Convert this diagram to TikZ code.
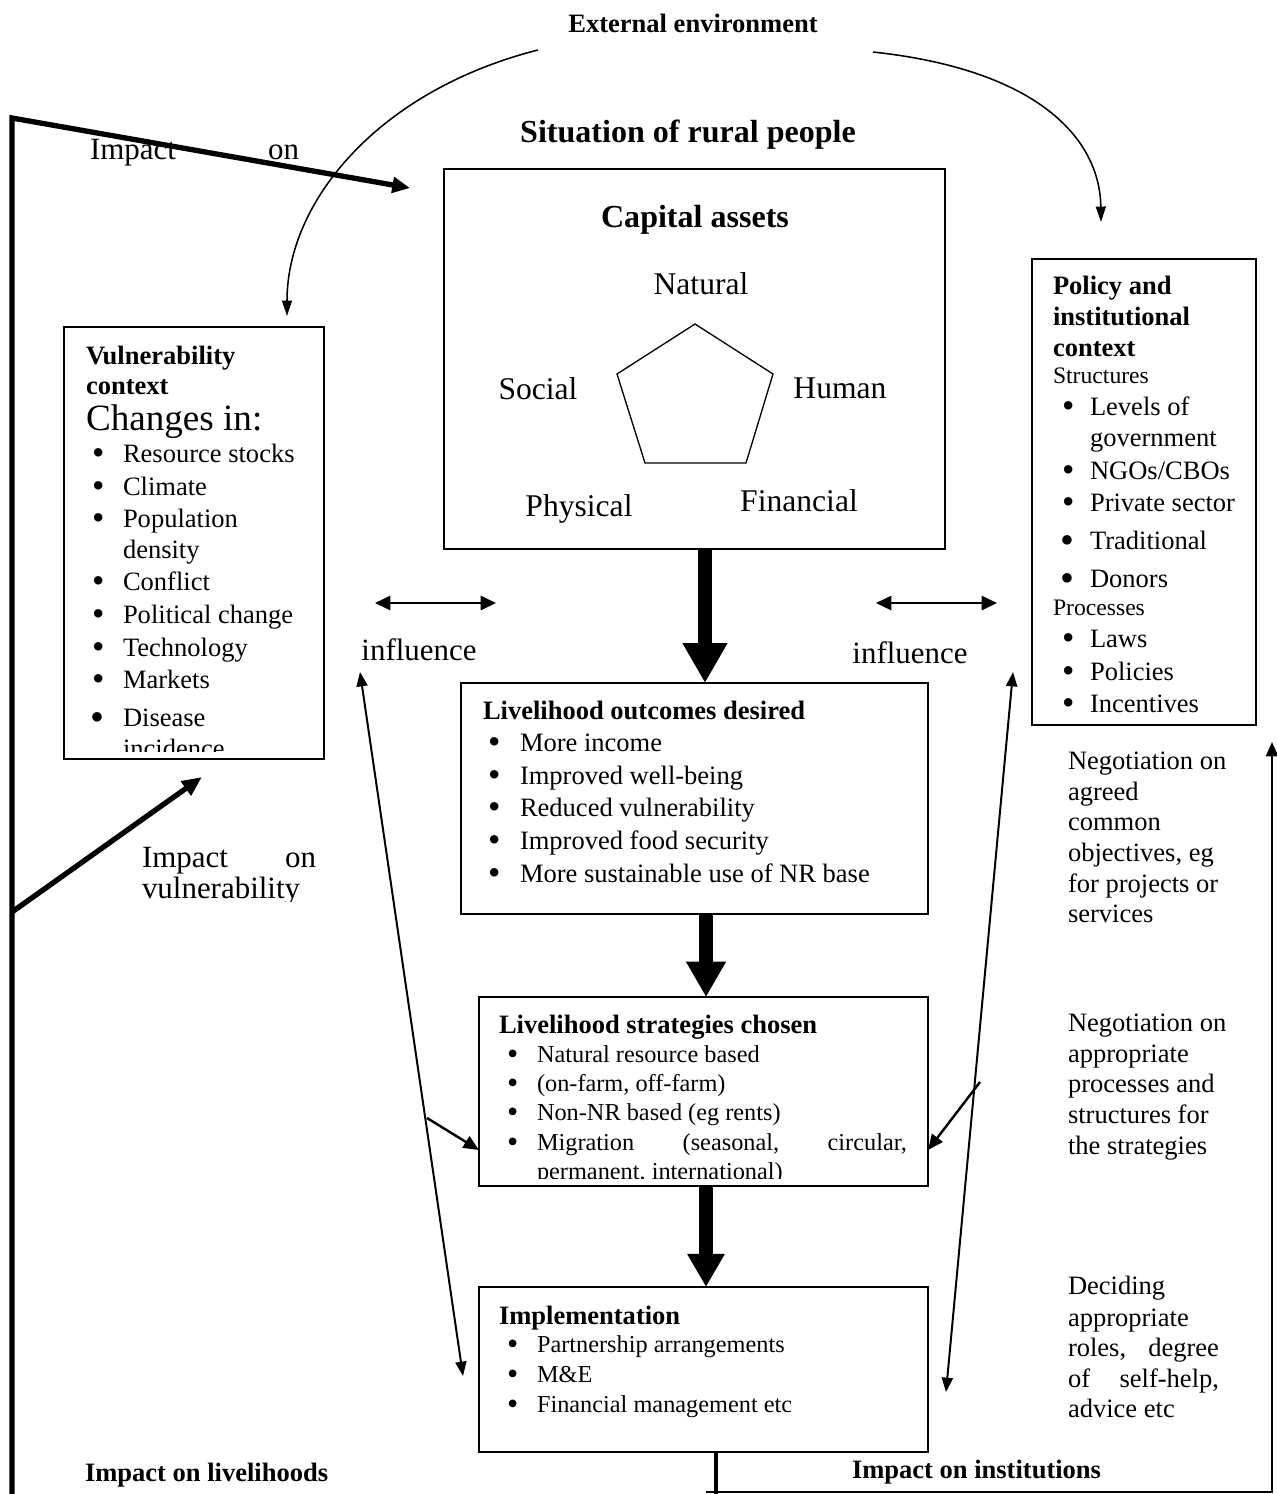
\documentclass[tikz,border=0pt]{standalone}
\usepackage{fontspec}
\setmainfont{Liberation Serif}
\usetikzlibrary{arrows.meta}
\newdimen\px \px=0.4525pt
\newcommand\itm[2]{\makebox[#1\px][l]{\smash{\raisebox{-1.3pt}{\fontsize{16}{16}\selectfont\textbullet}}}#2}
\newcommand\itms[2]{\makebox[#1\px][l]{\smash{\raisebox{-1.0pt}{\fontsize{14.5}{14.5}\selectfont\textbullet}}}#2}
\newcommand\itmb[2]{\makebox[#1\px][l]{\smash{\raisebox{-1.9pt}{\fontsize{18}{18}\selectfont\textbullet}}}#2}
\tikzset{
  box/.style={draw, line width=0.9pt, anchor=north west, inner sep=0pt, outer sep=0pt},
  tx/.style={anchor=base west, inner sep=0pt, outer sep=0pt, font=\fontsize{12}{14}\selectfont},
  txb/.style={tx, font=\fontsize{12}{14}\selectfont\bfseries},
  txs/.style={tx, font=\fontsize{11}{13}\selectfont},
  txxs/.style={tx, font=\fontsize{10.7}{12}\selectfont},
  txm/.style={tx, font=\fontsize{14}{16}\selectfont},
  txl/.style={tx, font=\fontsize{16.8}{19}\selectfont},
  ctr/.style={anchor=base, inner sep=0pt, outer sep=0pt},
  bigarr/.style={line width=6.6pt, -{Triangle[length=18pt,width=19pt]}},
  thickarr/.style={line width=2.4pt, line join=miter, -{Triangle[length=8pt,width=7pt]}},
  thinarr/.style={line width=0.9pt, -{Triangle[length=6.5pt,width=5.5pt]}},
  dblarr/.style={line width=0.9pt, {Triangle[length=7pt,width=6.5pt]}-{Triangle[length=7pt,width=6.5pt]}},
  longarr/.style={line width=0.9pt, {Triangle[length=6.5pt,width=5pt]}-{Triangle[length=6.5pt,width=5pt]}},
  curvarr/.style={line width=0.7pt, -{Triangle[length=7pt,width=4.5pt]}},
}
\begin{document}
\begin{tikzpicture}[x=0.4525pt, y=-0.4525pt]
\fill[white] (0,0) rectangle (1277,1494);
\useasboundingbox (0,0) rectangle (1277,1494);

% ---------- headings ----------
\node[ctr, font=\fontsize{12}{14}\selectfont\bfseries] (ext) at (693,32) {External environment};
\node[ctr, font=\fontsize{14.5}{17}\selectfont\bfseries] (sit) at (688,142) {Situation of rural people};

% ---------- capital assets ----------
\node[box, minimum width=501\px, minimum height=380\px] (cap) at (444,169) {};
\node[ctr, font=\fontsize{14.5}{17}\selectfont\bfseries] (capt) at (695,227) {Capital assets};
\node[ctr, font=\fontsize{14.3}{16}\selectfont] (nat) at (701,294) {Natural};
\node[ctr, font=\fontsize{14.3}{16}\selectfont] (soc) at (538,399) {Social};
\node[ctr, font=\fontsize{14.3}{16}\selectfont] (hum) at (840,398) {Human};
\node[ctr, font=\fontsize{14.3}{16}\selectfont] (phy) at (579,516) {Physical};
\node[ctr, font=\fontsize{14.3}{16}\selectfont] (fin) at (799,511) {Financial};
\draw[line width=0.6pt] (695,324) -- (773,374) -- (746,463) -- (645,463) -- (617,374) -- cycle;

% ---------- vulnerability context ----------
\node[box, minimum width=260\px, minimum height=432\px] (vul) at (64,327) {};
\node[txb] (v1) at (86,364) {Vulnerability};
\node[txb] (v2) at (86,394) {context};
\node[txl] (v3) at (86,430) {Changes in:};
\begin{scope}
\clip (64,327) rectangle (324,751);
\node[tx] (v4) at (92,462) {\itm{31}{Resource stocks}};
\node[tx] (v5) at (92,495) {\itm{31}{Climate}};
\node[tx] (v6) at (92,527) {\itm{31}{Population}};
\node[tx] (v7) at (123,558) {density};
\node[tx] (v8) at (92,590) {\itm{31}{Conflict}};
\node[tx] (v9) at (92,623) {\itm{31}{Political change}};
\node[tx] (v10) at (92,656) {\itm{31}{Technology}};
\node[tx] (v11) at (92,688) {\itm{31}{Markets}};
\node[tx] (v12) at (90,726) {\itmb{33}{Disease}};
\node[tx] (v13) at (123,757) {incidence};
\end{scope}

% ---------- policy and institutional context ----------
\node[box, minimum width=224\px, minimum height=466\px] (pol) at (1032,259) {};
\node[txb] (p1) at (1053,294) {Policy and};
\node[txb] (p2) at (1053,325) {institutional};
\node[txb] (p3) at (1053,356) {context};
\node[txxs] (p4) at (1053,383) {Structures};
\node[tx] (p5) at (1062,415) {\itm{28}{Levels of}};
\node[tx] (p6) at (1090,446) {government};
\node[tx] (p7) at (1062,479) {\itm{28}{NGOs/CBOs}};
\node[tx] (p8) at (1062,511) {\itm{28}{Private sector}};
\node[tx] (p9) at (1060,549) {\itmb{30}{Traditional}};
\node[tx] (p10) at (1060,587) {\itmb{30}{Donors}};
\node[txxs] (p11) at (1053,615) {Processes};
\node[tx] (p12) at (1062,647) {\itm{28}{Laws}};
\node[tx] (p13) at (1062,680) {\itm{28}{Policies}};
\node[tx] (p14) at (1062,712) {\itm{28}{Incentives}};

% ---------- livelihood outcomes ----------
\node[box, minimum width=467\px, minimum height=231\px] (out) at (461,683) {};
\node[txb] (o1) at (483,719) {Livelihood outcomes desired};
\node[tx] (o2) at (488,751) {\itm{32}{More income}};
\node[tx] (o3) at (488,784) {\itm{32}{Improved well-being}};
\node[tx] (o4) at (488,816) {\itm{32}{Reduced vulnerability}};
\node[tx] (o5) at (488,849) {\itm{32}{Improved food security}};
\node[tx] (o6) at (488,882) {\itm{32}{More sustainable use of NR base}};

% ---------- livelihood strategies ----------
\node[box, minimum width=449\px, minimum height=189\px] (str) at (479,997) {};
\node[txb] (s1) at (499,1033) {Livelihood strategies chosen};
\begin{scope}
\clip (479,997) rectangle (928,1178);
\node[txs] (s2) at (507,1062) {\itms{30}{Natural resource based}};
\node[txs] (s3) at (507,1091) {\itms{30}{(on-farm, off-farm)}};
\node[txs] (s4) at (507,1120) {\itms{30}{Non-NR based (eg rents)}};
\node[txs] (s5) at (507,1150) {\itms{30}{\hbox to 370\px{Migration\hfil(seasonal,\hfil circular,}}};
\node[txs] (s6) at (537,1179) {permanent, international)};
\end{scope}

% ---------- implementation ----------
\node[box, minimum width=449\px, minimum height=165\px] (imp) at (479,1287) {};
\node[txb] (i1) at (499,1324) {Implementation};
\node[txs] (i2) at (507,1352) {\itms{30}{Partnership arrangements}};
\node[txs] (i3) at (507,1382) {\itms{30}{M\&E}};
\node[txs] (i4) at (507,1412) {\itms{30}{Financial management etc}};

% ---------- influence ----------
\node[ctr, font=\fontsize{14}{16}\selectfont] (inf1) at (419,660) {influence};
\node[ctr, font=\fontsize{14}{16}\selectfont] (inf2) at (910,663) {influence};

% ---------- left labels ----------
\node[txm] (imp1) at (90,159) {\hbox to 209\px{Impact\hfil on}};
\node[txm] (imp2) at (142,867) {\hbox to 174\px{Impact\hfil on}};
\begin{scope}
\clip (130,870) rectangle (340,901);
\node[txm] (imp3) at (142,898) {vulnerability};
\end{scope}
\node[txb] (bl) at (85,1481) {Impact on livelihoods};
\node[txb] (br) at (852,1478) {Impact on institutions};

% ---------- right labels ----------
\node[tx] (r1) at (1068,769) {Negotiation on};
\node[tx] (r2) at (1068,800) {agreed};
\node[tx] (r3) at (1068,830) {common};
\node[tx] (r4) at (1068,861) {objectives, eg};
\node[tx] (r5) at (1068,892) {for projects or};
\node[tx] (r6) at (1068,922) {services};
\node[tx] (r7) at (1068,1031) {Negotiation on};
\node[tx] (r8) at (1068,1062) {appropriate};
\node[tx] (r9) at (1068,1092) {processes and};
\node[tx] (r10) at (1068,1123) {structures for};
\node[tx] (r11) at (1068,1154) {the strategies};
\node[tx] (r12) at (1068,1294) {Deciding};
\node[tx] (r13) at (1068,1326) {appropriate};
\node[tx] (r14) at (1068,1356) {\hbox to 151\px{roles,\hfil degree}};
\node[tx] (r15) at (1068,1387) {\hbox to 151\px{of\hfil self-help,}};
\node[tx] (r16) at (1068,1417) {advice etc};

% ---------- coordinates ----------
\coordinate (ax1) at (705,0);
\coordinate (ax2) at (706,0);
\coordinate (L0) at (12,1494);
\coordinate (L1) at (12,118);
\coordinate (A1) at (410,188);
\coordinate (V0) at (12,912);
\coordinate (V1) at (202,777);
\coordinate (E1) at (538,50);
\coordinate (E1t) at (287,316);
\coordinate (E2) at (873,52);
\coordinate (E2t) at (1101,222);
\coordinate (I1a) at (375,603);
\coordinate (I1b) at (496,603);
\coordinate (I2a) at (876,603);
\coordinate (I2b) at (997,603);
\coordinate (T1a) at (360,672);
\coordinate (T1b) at (463,1376);
\coordinate (T2a) at (1013,672);
\coordinate (T2b) at (946,1392);
\coordinate (S1a) at (427,1118);
\coordinate (S1b) at (479,1150);
\coordinate (S2a) at (980,1082);
\coordinate (S2b) at (928,1150);
\coordinate (B1) at (716,1494);
\coordinate (B2) at (706,1492);
\coordinate (B3) at (1272,1492);
\coordinate (B4) at (1272,742);

% ---------- connectors ----------
\draw[bigarr] (cap.south -| ax1) -- (out.north -| ax1);
\draw[line width=6.6pt, -{Triangle[length=16pt,width=17pt]}] (out.south -| ax2) -- (str.north -| ax2);
\draw[line width=6.6pt, -{Triangle[length=15pt,width=16pt]}] (str.south -| ax2) -- (imp.north -| ax2);

\draw[thickarr] (L0) -- (L1) -- (A1);
\draw[thickarr, -{Triangle[length=9pt,width=7.5pt]}] (V0) -- (V1);

\draw[curvarr] (E1) .. controls (380,90) and (287,200) .. (E1t);
\draw[curvarr] (E2) .. controls (1040,70) and (1100,140) .. (E2t);

\draw[dblarr] (I1a) -- (I1b);
\draw[dblarr] (I2a) -- (I2b);

\draw[longarr] (T1a) -- (T1b);
\draw[longarr] (T2a) -- (T2b);

\draw[line width=1.1pt, -{Triangle[length=7pt,width=6pt]}] (S1a) -- (S1b);
\draw[line width=1.1pt, -{Triangle[length=7pt,width=6pt]}] (S2a) -- (S2b);

\draw[line width=1.4pt] (imp.south -| B1) -- (B1);
\draw[thinarr] (B2) -- (B3) -- (B4);
\end{tikzpicture}
\end{document}
